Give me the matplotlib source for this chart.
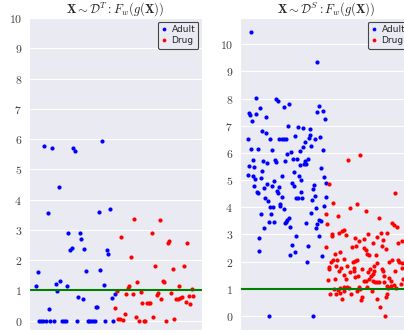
import matplotlib
matplotlib.use("Agg")
import matplotlib.pyplot as plt
import seaborn as sns

# positions along x are sample slots, y is the score
left_adult_x = [15.3, 23.3, 44, 45.7, 73, 29.7, 18.7, 69.7, 81, 39.3, 50.7, 52.3, 42.7, 41, 55.3, 77.7, 79.3,
                9, 57, 71.3, 7.3, 26.7, 31.3, 37.7, 74.7, 28, 85.7, 49, 53.7, 83, 20.3, 67, 68.3,
                10.3, 12.3, 14.3, 17, 21.3, 24.7, 33, 34.7, 36.5, 47.5, 58.5, 60.3, 62, 64, 65.7, 76.3, 84.3]
left_adult_y = [5.78, 5.69, 5.72, 5.60, 5.95, 4.43, 3.57, 3.59, 3.68, 2.90, 2.91, 2.70, 2.41, 2.34, 2.37, 2.34, 2.21,
                1.61, 1.63, 1.68, 1.13, 1.20, 1.31, 1.13, 1.19, 0.98, 0.89, 0.77, 0.73, 0.75, 0.40, 0.45, 0.44,
                0, 0, 0, 0, 0, 0, 0, 0, 0, 0, 0, 0, 0, 0, 0, 0, 0]

left_drug_x = [105.3, 130.7, 123, 92.3, 140.3, 139, 158, 102, 126, 143.7, 155, 108.3, 133.7, 135.3, 100.3, 99,
               150, 162.7, 87.7, 97, 103.7, 111.7, 127.7, 129.3, 142, 132.3, 147, 148.7, 151.3, 153.3, 159.7,
               164.3, 156.7, 161.3, 113.3, 118, 119.7, 121.3, 86, 95.7, 106.7, 124.3, 145, 89.3, 91, 94,
               110, 115, 116.3, 137]
left_drug_y = [3.37, 3.31, 2.90, 2.77, 2.64, 2.55, 2.55, 2.10, 1.79, 1.70, 1.79, 1.29, 1.31, 1.29, 1.15, 1.08,
               1.14, 1.05, 0.99, 0.88, 0.88, 0.94, 0.86, 0.91, 0.92, 0.73, 0.71, 0.71, 0.75, 0.77, 0.82,
               0.82, 0.63, 0.54, 0.57, 0.59, 0.59, 0.59, 0.42, 0.22, 0.12, 0.11, 0.07, 0.04, 0.04, 0.02,
               0, 0, 0, 0]

right_adult_x = [11.3, 77, 15.7, 35.7, 37.5, 20, 43.5, 49, 78.7, 8.7, 10.2, 16.3, 26.3, 12, 77.3, 83, 85, 48,
                 58.3, 62.7, 70, 22.3, 25.7, 8.3, 30.3, 39.2, 41.5, 43.5, 45.8, 55.2, 69.5, 68.5, 74.5, 79.8,
                 64.7, 71.3, 63.3, 10.8, 18.3, 31.8, 82.5, 60, 51, 47.2,
                 12.7, 23, 27.3, 35, 36, 44.7, 53, 57.3, 68, 65, 60, 64.3, 66, 9.3, 14.3, 81.3, 21.7, 54,
                 7.7, 13.3, 14.7, 20.7, 41.7, 59, 60.7, 83.7, 33.7, 85.7, 51.7, 53.7, 27, 24.3, 32.3, 38.7,
                 73.7, 73, 14, 36.7, 38.3, 61.3, 17.3, 18, 75, 86.3, 25, 42.3, 56, 58, 62, 71.7,
                 28, 29.7, 32.7, 40, 40.3, 44.3, 75.7, 84, 21.3, 31, 70.7, 80.7, 29, 34.3, 48.7, 47.3,
                 45.7, 45, 23.7, 49.7, 66.3, 78.7, 77.3, 76, 79.3, 56, 18.7, 52.3, 68.3, 19.3, 54.7, 50.3,
                 81.7, 67, 29.3, 72.7]
right_adult_y = [10.44, 9.34, 8.03, 7.97, 7.92, 7.65, 7.71, 7.81, 7.72, 7.48, 7.39, 7.42, 7.33, 7.18, 7.51, 7.54,
                 7.26, 7.01, 6.94, 6.91, 6.89, 6.80, 6.75, 6.51, 6.51, 6.51, 6.50, 6.51, 6.51, 6.63, 6.67,
                 6.56, 6.51, 6.58, 6.39, 6.25, 6.21, 6.14, 6.14, 6.12, 6.12, 6.07, 6.03, 5.97,
                 5.73, 5.69, 5.63, 5.73, 5.67, 5.71, 5.76, 5.78, 5.78, 5.72, 5.57, 5.60, 5.61, 5.51, 5.48,
                 5.46, 5.32, 5.29, 5.18, 5.16, 5.04, 5.09, 5.16, 5.14, 5.02, 5.13, 4.98, 4.89, 4.89, 4.80,
                 4.86, 4.72, 4.78, 4.73, 4.81, 4.66, 4.77, 4.60, 4.51, 4.57, 4.55, 4.51, 4.40, 4.39, 4.35,
                 4.36, 4.34, 4.34, 4.34, 4.27,
                 4.22, 4.01, 4.01, 4.13, 4.05, 3.92, 3.97, 4.05, 3.77, 3.77, 3.80, 3.50, 3.45, 3.47, 3.60,
                 3.54, 3.47, 3.42, 3.23, 3.27, 3.41, 3.52, 3.39, 3.23, 2.94, 2.96, 2.88, 2.60, 2.58, 2.38,
                 2.34, 2.24, 2.19, 1.97, 0, 0]

right_drug_x = [108.3, 120.3, 89.3, 154.7, 92.7, 117, 110, 126, 86.3, 97.7, 139, 87.3, 152, 154, 156.7, 103.7,
                101.7, 99, 106, 91.7, 92.3, 128, 140.7, 147.3, 114.7, 119, 136.7, 124.3, 157.7, 162, 143,
                132.7, 142, 145.7, 111.7, 116.3, 124, 126, 127.3, 128.7, 136.3, 86.3, 94.7, 99.7, 115, 116.7,
                112.7, 91.3, 93.3, 97, 103.7, 136.7, 134.3, 149, 152.3, 157.7, 159.3, 162.3, 161.7, 88.7, 89,
                96.3, 98.7, 101, 107, 110, 114, 113.7, 122, 129.7, 128.3, 134, 132.7, 131.3, 142, 143, 155.3,
                104.3, 118, 115.3, 95.3, 88, 105.7, 124, 126, 128.7, 133, 135, 137, 139, 144.3, 149, 150.7,
                143.7, 153.7, 151.3, 155.7, 160.7, 163.3, 94.3, 97.7, 100, 104, 107.3, 108.7, 119.3, 120,
                127, 132, 147, 148.3, 90, 95.7, 100, 104.3, 111, 117.3, 101.7, 122.3, 121.3, 137.3, 146, 147,
                140, 145]
right_drug_y = [5.74, 5.92, 4.86, 4.53, 4.16, 4.11, 3.96, 3.85, 3.74, 3.68, 3.59, 3.40, 3.43, 3.36, 3.27, 3.18,
                3.11, 3.05, 2.99, 3.02, 2.94, 3.01, 3.05, 3.05, 2.85, 2.77, 2.90, 2.84, 2.68, 2.75, 2.78,
                2.67, 2.57, 2.45, 2.52, 2.56, 2.49, 2.42, 2.29, 2.26, 2.25, 2.54, 2.29, 2.35, 2.03, 2.04,
                2.00, 2.00, 2.07, 2.06, 2.09, 1.94, 1.84, 2.00, 2.04, 2.05, 1.99, 1.94, 1.77, 1.80, 1.72,
                1.82, 1.67, 1.77, 1.84, 1.61, 1.77, 1.67, 1.72, 1.72, 1.60, 1.64, 1.55, 1.47, 1.74, 1.67, 1.65,
                1.49, 1.47, 1.44, 1.37, 1.33, 1.34, 1.30, 1.30, 1.37, 1.30, 1.24, 1.25, 1.25, 1.46, 1.40, 1.30,
                1.23, 1.15, 1.10, 1.03, 1.16, 1.35, 1.00, 0.97, 1.04, 1.08, 1.07, 1.02, 1.06, 0.98,
                1.06, 0.91, 1.10, 1.01, 0.82, 0.79, 0.84, 0.90, 0.81, 0.90, 0.62, 0.69, 0.60, 0.64, 0.70, 0.82,
                0.31, 0.01]

yticks = list(range(11))
threshold = 1.0

sns.set_style("darkgrid")
plt.rcParams["mathtext.fontset"] = "cm"
plt.rcParams["font.family"] = ["DejaVu Sans"]

fig = plt.figure(figsize=(4.04, 3.34), dpi=100)
ax1 = fig.add_axes([29 / 404, 4 / 334, 173 / 404, 312 / 334])
ax2 = fig.add_axes([240 / 404, 4 / 334, 172 / 404, 312 / 334])


def draw(ax, ax_x, ax_y, dx, dy, title, ylim, xmax):
    ax.plot(ax_x, ax_y, "o", color="blue", ms=3, mew=0, label="Adult")
    ax.plot(dx, dy, "o", color="red", ms=3, mew=0, label="Drug")
    ax.axhline(threshold, color="green", lw=1.5)
    ax.set_xlim(0, xmax)
    ax.set_ylim(*ylim)
    ax.set_xticks([])
    ax.set_yticks(yticks)
    ax.set_yticklabels([f"${t}$" for t in yticks], fontsize=8.5, color="0.25")
    ax.tick_params(axis="y", length=0, pad=5)
    ax.set_title(title, fontsize=9, pad=3)
    leg = ax.legend(loc="upper right", fontsize=6.5, frameon=True, handlelength=0.6,
                    handletextpad=0.5, borderpad=0.35, labelspacing=0.3, borderaxespad=0.4,
                    fancybox=True, markerscale=0.9)
    leg.get_frame().set_edgecolor("0.1")
    leg.get_frame().set_facecolor("#EAEAF2")
    leg.get_frame().set_linewidth(0.8)


draw(ax1, left_adult_x, left_adult_y, left_drug_x, left_drug_y,
     r"$\mathbf{X} \sim \mathcal{D}^T : F_w(g(\mathbf{X}))$", (-0.31, 10), 173)
draw(ax2, right_adult_x, right_adult_y, right_drug_x, right_drug_y,
     r"$\mathbf{X} \sim \mathcal{D}^S : F_w(g(\mathbf{X}))$", (-0.52, 10.97), 172)

fig.savefig("out.png", dpi=100)
